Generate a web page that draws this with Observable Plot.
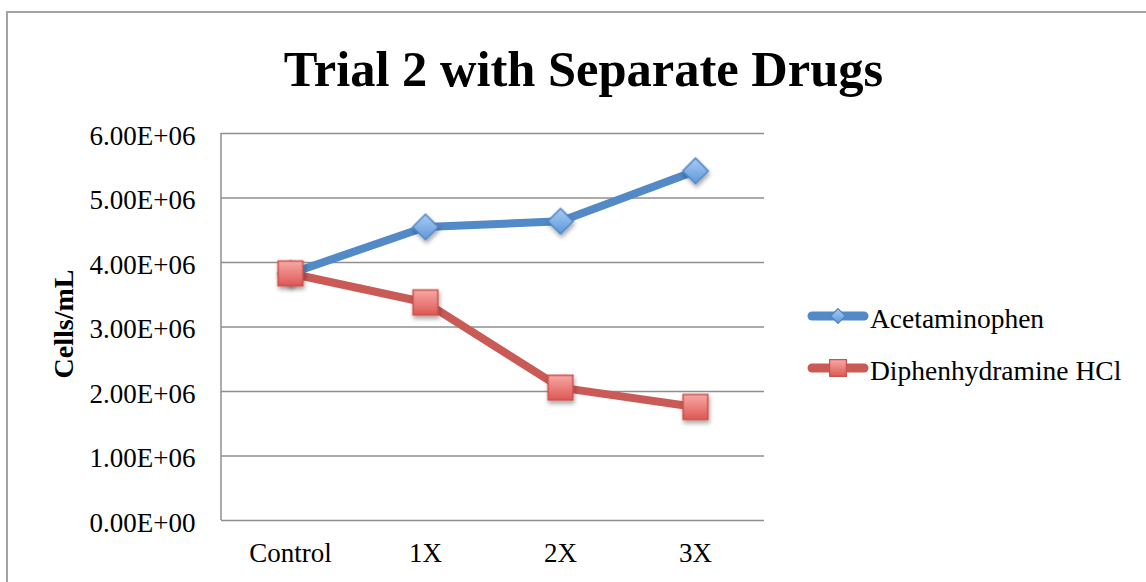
<!DOCTYPE html>
<html>
<head>
<meta charset="utf-8">
<script src="https://cdn.jsdelivr.net/npm/d3@7"></script>
<script src="https://cdn.jsdelivr.net/npm/@observablehq/plot@0.6"></script>
<style>
  html, body { margin: 0; padding: 0; background: #fff; overflow: hidden; }
  #wrap { position: relative; width: 1146px; height: 582px; overflow: hidden; font-family: "Liberation Serif", serif; }
  #border { position: absolute; left: 6px; top: 11px; width: 1200px; height: 700px; border-left: 2px solid #a3a3a3; border-top: 2px solid #a3a3a3; }
  #chart { position: absolute; left: 0; top: 0; }
  #title { position: absolute; left: 583.5px; top: 44px; transform: translateX(-50%); font-size: 50.5px; font-weight: bold; line-height: 1; white-space: nowrap; color: #000; }
  #ylabel { position: absolute; left: 63.5px; top: 324px; transform: translate(-50%, -50%) rotate(-90deg); font-size: 28px; font-weight: bold; line-height: 1; white-space: nowrap; color: #000; }
  .legtext { position: absolute; left: 870px; font-size: 27.5px; line-height: 1; white-space: nowrap; color: #000; }
  .legsw { position: absolute; left: 800px; }
</style>
</head>
<body>
<svg width="0" height="0" style="position:absolute">
  <defs>
    <linearGradient id="gradBlue" x1="0" y1="0" x2="0" y2="1">
      <stop offset="0" stop-color="#A9CDF5"/>
      <stop offset="1" stop-color="#5F97DA"/>
    </linearGradient>
    <linearGradient id="gradRed" x1="0" y1="0" x2="0" y2="1">
      <stop offset="0" stop-color="#F8A9A6"/>
      <stop offset="1" stop-color="#DF5753"/>
    </linearGradient>
    <filter id="shadow" x="-50%" y="-50%" width="200%" height="200%">
      <feDropShadow dx="1" dy="3" stdDeviation="2" flood-color="#000" flood-opacity="0.35"/>
    </filter>
  </defs>
</svg>
<div id="wrap">
  <div id="border"></div>
  <div id="chart"></div>
  <div id="title"></div>
  <div id="ylabel"></div>
  <div id="legend"></div>
</div>
<script>
// ---- data ----
const titleText = "Trial 2 with Separate Drugs";
const yLabelText = "Cells/mL";
const categories = ["Control", "1X", "2X", "3X"];
const seriesNames = ["Acetaminophen", "Diphenhydramine HCl"];
const acetaminophen = [3.83e6, 4.55e6, 4.64e6, 5.42e6];
const diphenhydramine = [3.83e6, 3.38e6, 2.06e6, 1.76e6];
const yTicks = [0, 1e6, 2e6, 3e6, 4e6, 5e6, 6e6];
const lineColors = ["#5289C7", "#C95A55"];
const markerStrokes = ["#4F84C2", "#C8524E"];
const markerFills = ["url(#gradBlue)", "url(#gradRed)"];
const markerSymbols = ["diamond2", "square"];

// ---- build table ----
const seriesValues = [acetaminophen, diphenhydramine];
const rows = [];
seriesNames.forEach((s, i) => categories.forEach((c, j) => rows.push({series: s, category: c, value: seriesValues[i][j]})));

function sci(d) {
  const [m, e] = d.toExponential(2).split("e");
  const ev = Math.abs(+e);
  return m.toUpperCase() + "E" + (+e < 0 ? "-" : "+") + String(ev).padStart(2, "0");
}

const W = 1146, H = 582;
const mL = 221, mR = 382, mT = 133, mB = 62;

const leftAxisLine = (index, scales, values, dimensions) => {
  const g = d3.create("svg:g");
  g.append("line")
    .attr("x1", dimensions.marginLeft).attr("x2", dimensions.marginLeft)
    .attr("y1", dimensions.height - dimensions.marginBottom).attr("y2", dimensions.marginTop)
    .attr("stroke", "#8f8f8f").attr("stroke-width", 1.5);
  return g.node();
};

const marks = [
  Plot.gridY(yTicks, {stroke: "#8f8f8f", strokeOpacity: 1, strokeWidth: 1.5}),
  leftAxisLine,
  Plot.axisY(yTicks, {tickSize: 0, tickPadding: 26, tickFormat: sci, dy: 2.5, fontSize: 27, label: null}),
  Plot.axisX({tickSize: 0, tickPadding: 22, fontSize: 27, label: null}),
];
seriesNames.forEach((s, i) => {
  const data = rows.filter(r => r.series === s);
  marks.push(Plot.line(data, {x: "category", y: "value", stroke: lineColors[i], strokeWidth: 8, strokeLinejoin: "round", strokeLinecap: "round"}));
});
seriesNames.forEach((s, i) => {
  const data = rows.filter(r => r.series === s);
  marks.push(Plot.dot(data, {x: "category", y: "value", symbol: markerSymbols[i], r: i === 0 ? 11.5 : 14, fill: markerFills[i], stroke: markerStrokes[i], strokeWidth: 1.5}));
});

const chart = Plot.plot({
  width: W, height: H,
  marginLeft: mL, marginRight: mR, marginTop: mT, marginBottom: mB,
  style: {fontFamily: "Liberation Serif", fontSize: "24px", color: "#000", background: "transparent", overflow: "visible"},
  x: {type: "point", domain: categories, padding: 0.5},
  y: {domain: [0, 6e6]},
  marks
});
d3.select(chart).selectAll("g[aria-label=dot]").attr("filter", "url(#shadow)");
document.getElementById("chart").appendChild(chart);

document.getElementById("title").textContent = titleText;
document.getElementById("ylabel").textContent = yLabelText;

// ---- legend ----
const legend = document.getElementById("legend");
const rowLineY = [316, 368];
seriesNames.forEach((s, i) => {
  const sw = d3.create("svg").attr("class", "legsw").attr("width", 80).attr("height", 30)
    .style("top", (rowLineY[i] - 15) + "px");
  sw.append("line").attr("x1", 12).attr("x2", 64).attr("y1", 15).attr("y2", 15)
    .attr("stroke", lineColors[i]).attr("stroke-width", 9).attr("stroke-linecap", "round");
  const sym = i === 0 ? d3.symbolDiamond2 : d3.symbolSquare;
  const size = i === 0 ? 140 : 280;
  sw.append("path").attr("d", d3.symbol(sym, size)()).attr("transform", "translate(38,15)")
    .attr("fill", markerFills[i]).attr("stroke", markerStrokes[i]).attr("stroke-width", 1.2);
  legend.appendChild(sw.node());
  const t = document.createElement("div");
  t.className = "legtext";
  t.style.top = (rowLineY[i] + 12 - 23) + "px";
  t.textContent = s;
  legend.appendChild(t);
});
</script>
</body>
</html>
